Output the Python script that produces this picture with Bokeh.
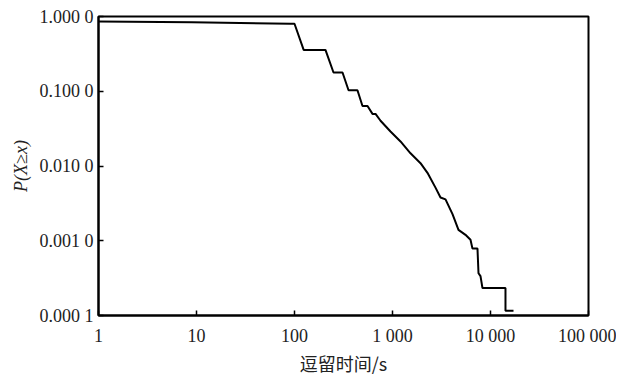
from bokeh.plotting import figure
from bokeh.embed import file_html
from bokeh.resources import INLINE
from bokeh.models import FixedTicker

# Survival curve: dwell time (s) vs P(X>=x)
dwell_time = [1, 9, 91, 100, 124, 207, 250, 309, 356, 439, 494, 556, 625, 671,
              755, 954, 1207, 1527, 1931, 2274, 2746, 3090, 3475, 4096, 4713,
              5556, 6250, 6548, 7365, 7543, 7906, 8283, 14220, 14220, 17170]
prob = [0.86, 0.84, 0.80, 0.80, 0.357, 0.357, 0.178, 0.178, 0.103, 0.103,
        0.0635, 0.0635, 0.0498, 0.0498, 0.0403, 0.0289, 0.0213, 0.0148, 0.0109,
        0.0081, 0.00514, 0.00379, 0.00357, 0.00227, 0.0014, 0.0012, 0.00103,
        0.000785, 0.000785, 0.000368, 0.000336, 0.000233, 0.000233, 0.000116,
        0.000116]

x_ticks = [1, 10, 100, 1000, 10000, 100000]
x_tick_labels = ["1", "10", "100", "1 000", "10 000", "100 000"]
y_ticks = [0.0001, 0.001, 0.01, 0.1, 1]
y_tick_labels = ["0.000 1", "0.001 0", "0.010 0", "0.100 0", "1.000 0"]

serif = "Liberation Serif"

p = figure(width=616, height=378, x_axis_type="log", y_axis_type="log",
           x_range=(1, 100000), y_range=(0.0001, 1),
           output_backend="svg", toolbar_location=None,
           min_border_left=98, min_border_right=28, min_border_top=16,
           min_border_bottom=58)

p.line(dwell_time, prob, line_color="black", line_width=2)

p.xgrid.visible = False
p.ygrid.visible = False
p.outline_line_color = "black"
p.outline_line_width = 2
p.outline_line_alpha = 1

p.xaxis.ticker = FixedTicker(ticks=x_ticks, minor_ticks=[])
p.yaxis.ticker = FixedTicker(ticks=y_ticks, minor_ticks=[])
p.xaxis.major_label_overrides = {float(t): l for t, l in zip(x_ticks, x_tick_labels)}
p.yaxis.major_label_overrides = {float(t): l for t, l in zip(y_ticks, y_tick_labels)}

for ax in (p.xaxis, p.yaxis):
    ax.axis_line_color = "black"
    ax.axis_line_width = 2
    ax.major_tick_in = 5
    ax.major_tick_out = 0
    ax.major_tick_line_width = 1.5
    ax.minor_tick_line_color = None
    ax.major_label_text_font = serif
    ax.major_label_text_font_size = "18px"
    ax.major_label_text_color = "#222222"

p.xaxis.major_label_standoff = 10
p.yaxis.major_label_standoff = 5

p.xaxis.axis_label = "逗留时间/s"
p.xaxis.axis_label_text_font = "Noto Sans CJK SC"
p.xaxis.axis_label_text_font_size = "18px"
p.xaxis.axis_label_text_font_style = "normal"
p.xaxis.axis_label_text_color = "#222222"
p.xaxis.axis_label_standoff = 1

p.yaxis.axis_label = "P(X≥x)"
p.yaxis.axis_label_text_font = serif
p.yaxis.axis_label_text_font_size = "18px"
p.yaxis.axis_label_text_font_style = "italic"
p.yaxis.axis_label_text_color = "#222222"
p.yaxis.axis_label_standoff = 6

open("out.html", "w").write(file_html(p, INLINE))
